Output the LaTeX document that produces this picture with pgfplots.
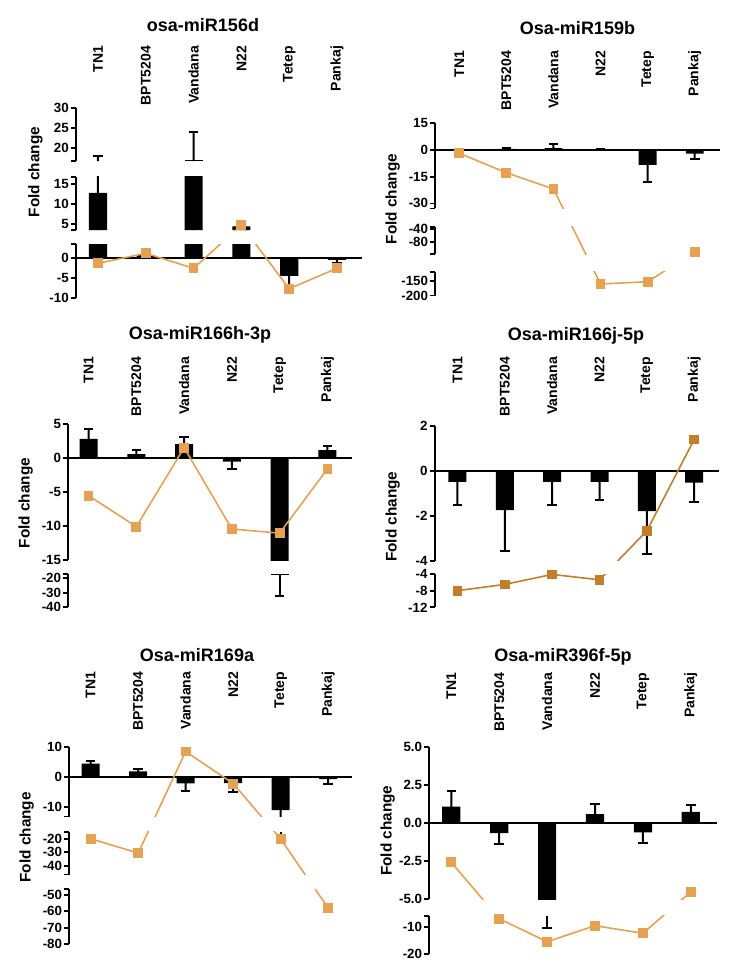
\documentclass[border=0pt]{standalone}
\usepackage{pgfplots}
\pgfplotsset{compat=1.18}
\usepackage{pgfplotstable}
\usepackage{fontspec}
\setmainfont{Liberation Sans}
\def\px{*0.75pt}
\definecolor{orng}{RGB}{230,162,82}
\definecolor{orngd}{RGB}{196,126,42}
\newcommand\ticfont{\bfseries\fontsize{10}{12}\selectfont}
\newcommand\labfont{\bfseries\fontsize{10.5}{12}\selectfont}
\newcommand\titfont{\bfseries\fontsize{13.5}{15}\selectfont}
\newcommand\ylabfont{\bfseries\fontsize{11.5}{13}\selectfont}

% x: category index, m: bar (mean), e: end of error bar, o: orange line
\pgfplotstableread{
x m e o
0 12.8 18.1 -1.25
1 0.8 1.2 1.25
2 17.1 24.15 -2.5
3 4.4 5.5 4.75
4 -4.4 -8.75 -7.6
5 -0.4 -1.25 -2.5
}\tA
\pgfplotstableread{
x m e o
0 0.4 0.8 -1.85
1 0.7 1.3 -12.75
2 1.0 3.3 -21.9
3 0.5 0.8 -160.3
4 -8.4 -17.8 -152.4
5 -2.0 -5.0 -110.8
}\tB
\pgfplotstableread{
x m e o
0 2.84 4.26 -5.5
1 0.6 1.2 -10.05
2 2.1 3.2 1.57
3 -0.5 -1.5 -10.4
4 -17.5 -32.2 -11.0
5 1.2 1.85 -1.57
}\tC
\pgfplotstableread{
x m e o
0 -0.5 -1.53 -8.0
1 -1.75 -3.56 -6.5
2 -0.5 -1.53 -4.1
3 -0.5 -1.3 -5.4
4 -1.8 -3.7 -2.67
5 -0.53 -1.38 1.39
}\tD
\pgfplotstableread{
x m e o
0 4.4 5.3 -20
1 1.8 2.5 -30.6
2 -2.2 -4.9 8.4
3 -2.1 -5.0 -2.3
4 -11.1 -23.2 -20.2
5 -0.8 -2.5 -58.1
}\tE
\pgfplotstableread{
x m e o
0 1.1 2.15 -2.57
1 -0.64 -1.38 -6.8
2 -5.3 -10.4 -15.4
3 0.61 1.27 -9.4
4 -0.6 -1.3 -12.25
5 0.75 1.18 -4.5
}\tF

\pgfplotsset{
 seg/.style={anchor=south west, y=0.75pt,
   axis y line=left,
   y axis line style={-, line width=1.5pt},
   ytick style={black, line width=1.3pt},
   major tick length=3.75pt, tick align=outside,
   yticklabel style={font=\ticfont, inner sep=1.5pt},
   extra y tick labels={},
 },
 noxax/.style={axis x line=none, xtick=\empty},
 topseg/.style={axis x line=top, x axis line style={draw=none},
   xtick={0,1,2,3,4,5},
   xticklabels={TN1,BPT5204,Vandana,N22,Tetep,Pankaj},
   xtick style={draw=none},
   xticklabel style={rotate=90, anchor=east, inner sep=0pt, font=\labfont},
   xticklabel shift=#1},
 trA/.style={y coord trafo/.code={\pgfmathparse{((##1)<3.5)?(4*(##1)):(((##1)<16.8)?(4*(##1)+14.3):(4*(##1)+30))}}},
 trB/.style={y coord trafo/.code={\pgfmathparse{((##1)<-118)?(0.29*(##1)-87.5):(((##1)<-33)?(0.325*(##1)-66):(1.78*(##1)))}}},
 trC/.style={y coord trafo/.code={\pgfmathparse{((##1)<-16)?(1.45*(##1)-91):(6.8*(##1))}}},
 trD/.style={y coord trafo/.code={\pgfmathparse{((##1)<-4.05)?(4.17*(##1)-86.6):(22.5*(##1))}}},
 trE/.style={y coord trafo/.code={\pgfmathparse{((##1)<-46.55)?(1.65*(##1)-35.5):(((##1)<-14)?(1.35*(##1)-35):(3*(##1)))}}},
 trF/.style={y coord trafo/.code={\pgfmathparse{((##1)<-5.5)?(2.67*(##1)-77.3):(15.2*(##1))}}},
}

\newcommand\barplots[2][]{%
 \addplot[ybar, bar shift=0pt, bar width=0.38, fill=black, draw=none, #1] table[x=x,y=m]{#2};
 \addplot[ybar, bar shift=0pt, bar width=1.5pt, fill=black, draw=none, #1] table[x=x,y=e]{#2};
 \addplot[only marks, mark=-, mark size=3.6pt, mark options={line width=1.5pt, black}] table[x=x,y=e]{#2};
}
\newcommand\zeroline[2]{\addplot[black, line width=1.5pt] coordinates {(#1,0) (#2,0)};}
\newcommand\lineplot[2]{%
 \addplot[color=#2, line width=1.2pt, mark=square*, mark size=3.3pt, mark options={fill=#2, draw=#2, line width=0pt}] table[x=x,y=o]{#1};
}

\begin{document}
\begin{tikzpicture}
\path[use as bounding box] (0,0) rectangle (743\px,-975\px);

% ---------------- Panel 1
\node[font=\titfont] at (203\px,-25\px) {osa-miR156d};
\node[font=\ylabfont, rotate=90] at (35.5\px,-172\px) {Fold change};
\begin{axis}[seg, noxax, trA, at={(76\px,-298.3\px)}, x=35.85pt, xmin=-0.46, xmax=5.52,
  ymin=-10, ymax=3.49, ytick={-10,-5,0}, yticklabels={-10,-5,0}, extra y ticks={3.49}]
\barplots{\tA}
\zeroline{-0.46}{5.52}
\lineplot{\tA}{orng}
\end{axis}
\begin{axis}[seg, noxax, trA, at={(76\px,-230\px)}, x=35.85pt, xmin=-0.46, xmax=5.52,
  ymin=3.5, ymax=16.79, ytick={5,10,15}, yticklabels={5,10,15}, extra y ticks={3.5,16.79}]
\barplots[y filter/.expression={y<3.5 ? nan : (y<16.8 ? 4*y+14.3 : 4*y+30)}]{\tA}
\lineplot{\tA}{orng}
\end{axis}
\begin{axis}[seg, trA, topseg=45pt, at={(76\px,-161.1\px)}, x=35.85pt, xmin=-0.46, xmax=5.52,
  ymin=16.8, ymax=30, ytick={20,25,30}, yticklabels={20,25,30}, extra y ticks={16.8}]
\barplots[y filter/.expression={y<16.8 ? nan : 4*y+30}]{\tA}
\lineplot{\tA}{orng}
\end{axis}

% ---------------- Panel 2
\node[font=\titfont] at (577.5\px,-28\px) {Osa-miR159b};
\node[font=\ylabfont, rotate=90] at (392.7\px,-199\px) {Fold change};
\begin{axis}[seg, noxax, trB, at={(435.3\px,-295.5\px)}, x=35.31pt, xmin=-0.51, xmax=5.54,
  ymin=-200, ymax=-118.1, ytick={-200,-150}, yticklabels={-200,-150}, extra y ticks={-118.1}]
\barplots[y filter/.expression={y>-118 ? nan : 0.29*y-87.5}]{\tB}
\lineplot{\tB}{orng}
\end{axis}
\begin{axis}[seg, noxax, trB, at={(435.3\px,-254.3\px)}, x=35.31pt, xmin=-0.51, xmax=5.54,
  ymin=-117.9, ymax=-33.1, ytick={-80,-40}, yticklabels={-80,-40}, extra y ticks={-117.9,-33.1}]
\barplots[y filter/.expression={y>-33 ? nan : (y<-118 ? 0.29*y-87.5 : 0.325*y-66)}]{\tB}
\lineplot{\tB}{orng}
\end{axis}
\begin{axis}[seg, trB, topseg=52.5pt, at={(435.3\px,-208.4\px)}, x=35.31pt, xmin=-0.51, xmax=5.54,
  ymin=-32.8, ymax=15, ytick={-30,-15,0,15}, yticklabels={-30,-15,0,15}, extra y ticks={-32.8}]
\barplots{\tB}
\zeroline{-0.51}{5.54}
\lineplot{\tB}{orng}
\end{axis}

% ---------------- Panel 3
\node[font=\titfont] at (200\px,-335\px) {Osa-miR166h-3p};
\node[font=\ylabfont, rotate=90] at (25.7\px,-503\px) {Fold change};
\begin{axis}[seg, noxax, trC, at={(68.3\px,-607.3\px)}, x=35.82pt, xmin=-0.425, xmax=5.51,
  ymin=-40, ymax=-17, ytick={-40,-30,-20}, yticklabels={-40,-30,-20}, extra y ticks={-17}]
\barplots[y filter/.expression={y>-16 ? nan : 1.45*y-91}]{\tC}
\lineplot{\tC}{orng}
\end{axis}
\begin{axis}[seg, trC, topseg=48.75pt, at={(68.3\px,-560.3\px)}, x=35.82pt, xmin=-0.425, xmax=5.51,
  ymin=-15, ymax=5, ytick={-15,-10,-5,0,5}, yticklabels={-15,-10,-5,0,5}]
\barplots{\tC}
\zeroline{-0.425}{5.51}
\lineplot{\tC}{orng}
\end{axis}

% ---------------- Panel 4
\node[font=\titfont] at (576\px,-335.7\px) {Osa-miR166j-5p};
\node[font=\ylabfont, rotate=90] at (392.7\px,-516.7\px) {Fold change};
\begin{axis}[seg, noxax, trD, at={(434.7\px,-607.34\px)}, x=35.52pt, xmin=-0.48, xmax=5.52,
  ymin=-12, ymax=-4.06, ytick={-12,-8,-4.06}, yticklabels={-12,-8,-4}]
\barplots[y filter/.expression={y>-4.05 ? nan : 4.17*y-86.6}]{\tD}
\lineplot{\tD}{orngd}
\end{axis}
\begin{axis}[seg, trD, topseg=49.8pt, at={(434.7\px,-560.7\px)}, x=35.52pt, xmin=-0.48, xmax=5.52,
  ymin=-4, ymax=2, ytick={-4,-2,0,2}, yticklabels={-4,-2,0,2}]
\barplots{\tD}
\zeroline{-0.48}{5.52}
\lineplot{\tD}{orngd}
\end{axis}

% ---------------- Panel 5
\node[font=\titfont] at (197\px,-655\px) {Osa-miR169a};
\node[font=\ylabfont, rotate=90] at (26.7\px,-837.3\px) {Fold change};
\begin{axis}[seg, noxax, trE, at={(69.3\px,-944.2\px)}, x=35.625pt, xmin=-0.45, xmax=5.51,
  ymin=-80, ymax=-46.6, ytick={-80,-70,-60,-50}, yticklabels={-80,-70,-60,-50}, extra y ticks={-46.6}]
\barplots[y filter/.expression={y>-46.55 ? nan : 1.65*y-35.5}]{\tE}
\lineplot{\tE}{orng}
\end{axis}
\begin{axis}[seg, noxax, trE, at={(69.3\px,-874.5\px)}, x=35.625pt, xmin=-0.45, xmax=5.51,
  ymin=-46.5, ymax=-14.8, ytick={-40,-30,-20}, yticklabels={-40,-30,-20}, extra y ticks={-46.5,-14.8}]
\barplots[y filter/.expression={y>-14 ? nan : (y<-46.55 ? 1.65*y-35.5 : 1.35*y-35)}]{\tE}
\lineplot{\tE}{orng}
\end{axis}
\begin{axis}[seg, trE, topseg=54.5pt, at={(69.3\px,-816.6\px)}, x=35.625pt, xmin=-0.45, xmax=5.51,
  ymin=-13.3, ymax=10, ytick={-10,0,10}, yticklabels={-10,0,10}, extra y ticks={-13.3}]
\barplots{\tE}
\zeroline{-0.45}{5.51}
\lineplot{\tE}{orng}
\end{axis}

% ---------------- Panel 6
\node[font=\titfont] at (563\px,-657\px) {Osa-miR396f-5p};
\node[font=\ylabfont, rotate=90] at (387.7\px,-830.7\px) {Fold change};
\begin{axis}[seg, noxax, trF, at={(429.3\px,-954\px)}, x=35.925pt, xmin=-0.46, xmax=5.55,
  ymin=-20, ymax=-5.66, ytick={-20,-10}, yticklabels={-20,-10}, extra y ticks={-5.66}]
\barplots[y filter/.expression={y>-5.5 ? nan : 2.67*y-77.3}]{\tF}
\lineplot{\tF}{orng}
\end{axis}
\begin{axis}[seg, trF, topseg=54.2pt, at={(429.3\px,-899.3\px)}, x=35.925pt, xmin=-0.46, xmax=5.55,
  ymin=-5, ymax=5, ytick={-5,-2.5,0,2.5,5}, yticklabels={-5.0,-2.5,0.0,2.5,5.0}]
\barplots{\tF}
\zeroline{-0.46}{5.55}
\lineplot{\tF}{orng}
\end{axis}
\end{tikzpicture}
\end{document}
